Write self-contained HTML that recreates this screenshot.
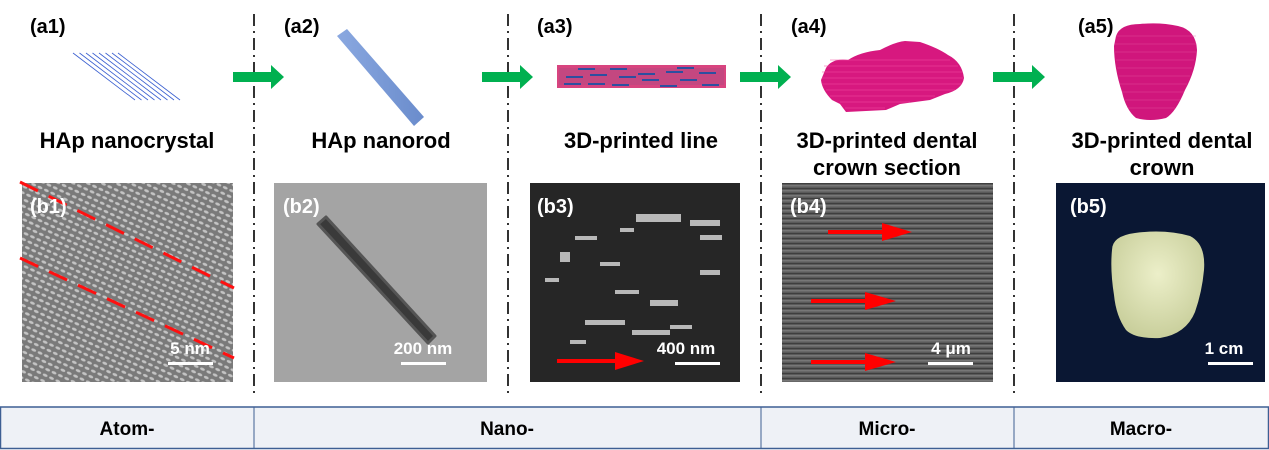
<!DOCTYPE html>
<html><head><meta charset="utf-8"><style>
html,body{margin:0;padding:0;background:#fff;}
svg{display:block;font-family:"Liberation Sans",Arial,sans-serif;}
</style></head><body>
<svg width="1269" height="450" viewBox="0 0 1269 450" xmlns="http://www.w3.org/2000/svg">
<defs>
<pattern id="lat" width="7" height="6" patternUnits="userSpaceOnUse" patternTransform="rotate(25)">
<rect width="7" height="6" fill="#7a7a7a"/><ellipse cx="3.5" cy="3" rx="2.6" ry="1.4" fill="#c4c4c4"/></pattern>
<pattern id="b4p" width="20" height="5" patternUnits="userSpaceOnUse">
<rect width="20" height="5" fill="#5a5a5a"/><rect y="0" width="20" height="1.5" fill="#777"/><rect y="3" width="20" height="1" fill="#3e3e3e"/></pattern>
<linearGradient id="rod" x1="0" y1="0" x2="1" y2="0"><stop offset="0" stop-color="#8aa8e0"/><stop offset="1" stop-color="#6a8ccc"/></linearGradient>
<radialGradient id="tooth" cx="0.5" cy="0.4" r="0.6"><stop offset="0" stop-color="#ecefc9"/><stop offset="1" stop-color="#c9cf9c"/></radialGradient>
</defs>

<g stroke="#000" stroke-width="1.6" stroke-dasharray="12,5,2,5">
<line x1="254" y1="14" x2="254" y2="395"/>
<line x1="508" y1="14" x2="508" y2="395"/>
<line x1="761" y1="14" x2="761" y2="395"/>
<line x1="1014" y1="14" x2="1014" y2="395"/>
</g>

<g font-size="20" font-weight="bold" fill="#000">
<text x="30" y="33">(a1)</text>
<text x="284" y="33">(a2)</text>
<text x="537" y="33">(a3)</text>
<text x="791" y="33">(a4)</text>
<text x="1078" y="33">(a5)</text>
</g>

<g stroke="#3a5fd0" stroke-width="0.8">
<line x1="73" y1="53" x2="135" y2="100"/><line x1="79.5" y1="53" x2="141.5" y2="100"/>
<line x1="86" y1="53" x2="148" y2="100"/><line x1="92.5" y1="53" x2="154.5" y2="100"/>
<line x1="99" y1="53" x2="161" y2="100"/><line x1="105.5" y1="53" x2="167.5" y2="100"/>
<line x1="112" y1="53" x2="174" y2="100"/><line x1="118" y1="53" x2="180" y2="100"/>
</g>

<polygon points="337,36 347,29 424,117 414,126" fill="url(#rod)"/>

<rect x="557" y="65" width="169" height="23" fill="#d8447f"/>
<rect x="559" y="68" width="165" height="17" fill="#b84a80" opacity="0.6"/>
<g fill="#2d4fa0">
<rect x="578" y="68" width="17" height="2"/><rect x="610" y="68" width="17" height="2"/><rect x="677" y="67" width="17" height="2"/>
<rect x="590" y="74" width="17" height="2"/><rect x="638" y="73" width="17" height="2"/><rect x="666" y="71" width="17" height="2"/><rect x="699" y="72" width="17" height="2"/>
<rect x="566" y="76" width="17" height="2"/><rect x="619" y="76" width="17" height="2"/><rect x="642" y="79" width="17" height="2"/><rect x="680" y="79" width="17" height="2"/>
<rect x="564" y="83" width="17" height="2"/><rect x="588" y="83" width="17" height="2"/><rect x="612" y="84" width="17" height="2"/><rect x="660" y="85" width="17" height="2"/><rect x="702" y="84" width="17" height="2"/>
</g>

<path d="M826,68 Q832,58 848,60 Q860,52 880,50 Q895,42 905,41 L920,42 Q938,48 948,55 Q962,62 964,78 Q962,90 945,94 L930,100 L900,104 L886,110 L846,112 L840,104 L832,100 Q822,90 821,80 Z" fill="#d7187f"/>
<g stroke="#f04aa0" stroke-width="0.7" opacity="0.7">
<line x1="830" y1="60" x2="950" y2="60"/><line x1="824" y1="66" x2="958" y2="66"/><line x1="822" y1="72" x2="962" y2="72"/><line x1="822" y1="78" x2="963" y2="78"/><line x1="822" y1="84" x2="962" y2="84"/><line x1="826" y1="90" x2="955" y2="90"/><line x1="830" y1="96" x2="935" y2="96"/><line x1="840" y1="102" x2="910" y2="102"/><line x1="845" y1="108" x2="885" y2="108"/>
</g>

<path d="M1116,36 Q1120,24 1140,24 Q1160,22 1178,26 Q1196,30 1197,50 Q1196,70 1185,90 Q1176,112 1166,118 Q1150,122 1136,118 Q1126,110 1122,92 Q1114,68 1114,46 Z" fill="#d0167c"/>
<g stroke="#e858a6" stroke-width="0.6" opacity="0.7">
<line x1="1116" y1="36" x2="1196" y2="36"/><line x1="1115" y1="44" x2="1197" y2="44"/><line x1="1115" y1="52" x2="1196" y2="52"/><line x1="1116" y1="60" x2="1194" y2="60"/><line x1="1117" y1="68" x2="1192" y2="68"/><line x1="1119" y1="76" x2="1190" y2="76"/><line x1="1120" y1="84" x2="1187" y2="84"/><line x1="1122" y1="92" x2="1184" y2="92"/><line x1="1125" y1="100" x2="1180" y2="100"/><line x1="1128" y1="108" x2="1175" y2="108"/>
</g>

<g fill="#00b050">
<polygon points="233,72 271,72 271,65 284,77 271,89 271,82 233,82"/>
<polygon points="482,72 520,72 520,65 533,77 520,89 520,82 482,82"/>
<polygon points="740,72 778,72 778,65 791,77 778,89 778,82 740,82"/>
<polygon points="993,72 1032,72 1032,65 1045,77 1032,89 1032,82 993,82"/>
</g>

<g font-size="22" font-weight="bold" fill="#000" text-anchor="middle">
<text x="127" y="148">HAp nanocrystal</text>
<text x="381" y="148">HAp nanorod</text>
<text x="641" y="148">3D-printed line</text>
<text x="887" y="148">3D-printed dental</text>
<text x="887" y="175">crown section</text>
<text x="1162" y="148">3D-printed dental</text>
<text x="1162" y="175">crown</text>
</g>

<rect x="22" y="183" width="211" height="199" fill="url(#lat)"/>
<g stroke="#ff1010" stroke-width="3" stroke-dasharray="20,12">
<line x1="20" y1="182" x2="234" y2="288"/>
<line x1="20" y1="258" x2="234" y2="358"/>
</g>
<rect x="274" y="183" width="213" height="199" fill="#a4a4a4"/>
<polygon points="318,224 326,217 435,336 428,343" fill="#3a3a3a" stroke="#555" stroke-width="3" stroke-linejoin="round"/>
<rect x="530" y="183" width="210" height="199" fill="#262626"/>
<g fill="#b8b8b8">
<rect x="636" y="214" width="45" height="8"/><rect x="690" y="220" width="30" height="6"/><rect x="700" y="235" width="22" height="5"/>
<rect x="575" y="236" width="22" height="4"/><rect x="600" y="262" width="20" height="4"/><rect x="650" y="300" width="28" height="6"/>
<rect x="585" y="320" width="40" height="5"/><rect x="632" y="330" width="38" height="5"/><rect x="670" y="325" width="22" height="4"/>
<rect x="545" y="278" width="14" height="4"/><rect x="615" y="290" width="24" height="4"/><rect x="560" y="252" width="10" height="10"/>
<rect x="700" y="270" width="20" height="5"/><rect x="620" y="228" width="14" height="4"/><rect x="570" y="340" width="16" height="4"/>
</g>
<rect x="782" y="183" width="211" height="199" fill="url(#b4p)"/>
<rect x="1056" y="183" width="209" height="199" fill="#0a1733"/>
<path d="M1112,250 Q1112,236 1135,233 Q1165,229 1190,236 Q1206,244 1204,270 Q1202,292 1195,312 Q1186,334 1160,338 Q1135,339 1126,330 Q1116,316 1114,295 Q1110,270 1112,250 Z" fill="url(#tooth)"/>

<g fill="#ff0000">
<rect x="557" y="359" width="60" height="4"/><polygon points="615,352 644,361 615,370"/>
<rect x="828" y="230" width="56" height="4"/><polygon points="882,223 912,232 882,241"/>
<rect x="811" y="299" width="56" height="4"/><polygon points="865,292 896,301 865,310"/>
<rect x="811" y="360" width="56" height="4"/><polygon points="865,353 896,362 865,371"/>
</g>

<g font-size="20" font-weight="bold" fill="#fff">
<text x="30" y="213">(b1)</text>
<text x="283" y="213">(b2)</text>
<text x="537" y="213">(b3)</text>
<text x="790" y="213">(b4)</text>
<text x="1070" y="213">(b5)</text>
</g>
<g font-size="17" font-weight="bold" fill="#fff" text-anchor="middle">
<text x="190" y="354">5 nm</text>
<text x="423" y="354">200 nm</text>
<text x="686" y="354">400 nm</text>
<text x="951" y="354">4 μm</text>
<text x="1224" y="354">1 cm</text>
</g>
<g fill="#fff">
<rect x="168" y="362" width="45" height="3"/>
<rect x="401" y="362" width="45" height="3"/>
<rect x="675" y="362" width="45" height="3"/>
<rect x="928" y="362" width="45" height="3"/>
<rect x="1208" y="362" width="45" height="3"/>
</g>

<rect x="0.5" y="407" width="1268" height="41.5" fill="#eef1f6" stroke="#3d5f93" stroke-width="1.5"/>
<g stroke="#3d5f93" stroke-width="1">
<line x1="254" y1="407" x2="254" y2="449"/>
<line x1="761" y1="407" x2="761" y2="449"/>
<line x1="1014" y1="407" x2="1014" y2="449"/>
</g>
<g font-size="19" font-weight="bold" fill="#000" text-anchor="middle">
<text x="127" y="435">Atom-</text>
<text x="507" y="435">Nano-</text>
<text x="887" y="435">Micro-</text>
<text x="1141" y="435">Macro-</text>
</g>
</svg>
</body></html>
